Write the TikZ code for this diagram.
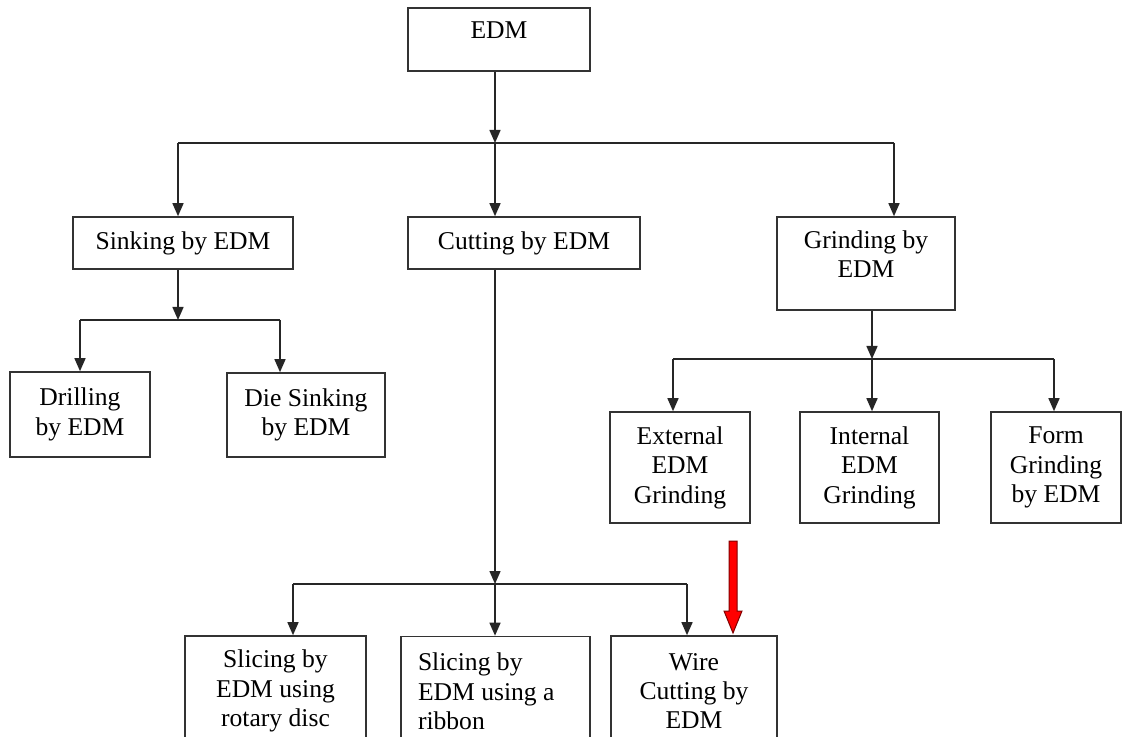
\documentclass[tikz,border=0pt]{standalone}
\usepackage{fontspec}
\setmainfont{Liberation Serif}
\usetikzlibrary{arrows.meta}
\begin{document}
\begin{tikzpicture}[x=0.5pt,y=-0.5pt,
  box/.style={draw=black!80, line width=0.8pt, align=center, inner sep=0pt,
    font=\fontsize{12.8}{14.7}\selectfont},
  arr/.style={draw=black!85, line width=0.75pt, -{Triangle[width=5.5pt,length=6.5pt]}},
  ln/.style={draw=black!85, line width=0.75pt}]
\useasboundingbox (0,0) rectangle (1124,737);
\clip (0,0) rectangle (1124,737);

\node[box, minimum width=91pt, minimum height=31.5pt, text depth=9pt] (edm) at (499,39.5) {EDM};

\node[box, minimum width=110pt, minimum height=26pt] (sink) at (183,243) {Sinking by EDM};
\node[box, minimum width=116pt, minimum height=26pt] (cut) at (524,243) {Cutting by EDM};
\node[box, minimum width=89pt, minimum height=46.5pt, text depth=9.5pt] (grind) at (866,263.5) {Grinding by\\EDM};

\node[box, minimum width=70pt, minimum height=42.5pt] (drill) at (80,414.5) {Drilling\\by EDM};
\node[box, minimum width=79pt, minimum height=42pt] (die) at (306,415) {Die Sinking\\by EDM};

\node[box, minimum width=70pt, minimum height=55.5pt] (ext) at (680,467.5) {External\\EDM\\Grinding};
\node[box, minimum width=69.5pt, minimum height=55.5pt] (int) at (869.5,467.5) {Internal\\EDM\\Grinding};
\node[box, minimum width=65pt, minimum height=55.5pt] (form) at (1056,467.5) {Form\\Grinding\\by EDM};

\node[box, minimum width=90.5pt, minimum height=55pt] (disc) at (275.5,691) {Slicing by\\EDM using\\rotary disc};
\node[box, minimum width=94.5pt, minimum height=55pt, align=flush left, text width=77.5pt] (ribbon) at (495.5,691.5) {Slicing by\\EDM using a\\ribbon};
\node[box, minimum width=83pt, minimum height=55pt] (wire) at (694,691) {Wire\\Cutting by\\EDM};

% first level
\coordinate (j0) at (495,143);
\coordinate (j0l) at (178,143);
\coordinate (j0r) at (894,143);
\draw[arr] (j0 |- edm.south) -- (j0);
\draw[ln] (j0l) -- (j0r);
\draw[arr] (j0l) -- (j0l |- sink.north);
\draw[arr] (j0) -- (j0 |- cut.north);
\draw[arr] (j0r) -- (j0r |- grind.north);

% sinking
\coordinate (j1) at (178,320);
\coordinate (j1l) at (80,320);
\coordinate (j1r) at (280,320);
\draw[arr] (j1 |- sink.south) -- (j1);
\draw[ln] (j1l) -- (j1r);
\draw[arr] (j1l) -- (j1l |- drill.north);
\draw[arr] (j1r) -- (j1r |- die.north);

% cutting
\coordinate (j2) at (495,584);
\coordinate (j2l) at (293,584);
\coordinate (j2r) at (687,584);
\draw[arr] (j2 |- cut.south) -- (j2);
\draw[ln] (j2l) -- (j2r);
\draw[arr] (j2l) -- (j2l |- disc.north);
\draw[arr] (j2) -- (j2 |- ribbon.north);
\draw[arr] (j2r) -- (j2r |- wire.north);

% grinding
\coordinate (j3) at (872,359);
\coordinate (j3l) at (673,359);
\coordinate (j3r) at (1054,359);
\draw[arr] (j3 |- grind.south) -- (j3);
\draw[ln] (j3l) -- (j3r);
\draw[arr] (j3l) -- (j3l |- ext.north);
\draw[arr] (j3) -- (j3 |- int.north);
\draw[arr] (j3r) -- (j3r |- form.north);

% red marker
\begin{scope}[shift={(733,541)}]
\filldraw[fill=red, draw=red!50!black, line width=0.5pt]
  (-4,0) -- (4,0) -- (4,70) -- (9,70) -- (0,92) -- (-9,70) -- (-4,70) -- cycle;
\end{scope}
\end{tikzpicture}
\end{document}
